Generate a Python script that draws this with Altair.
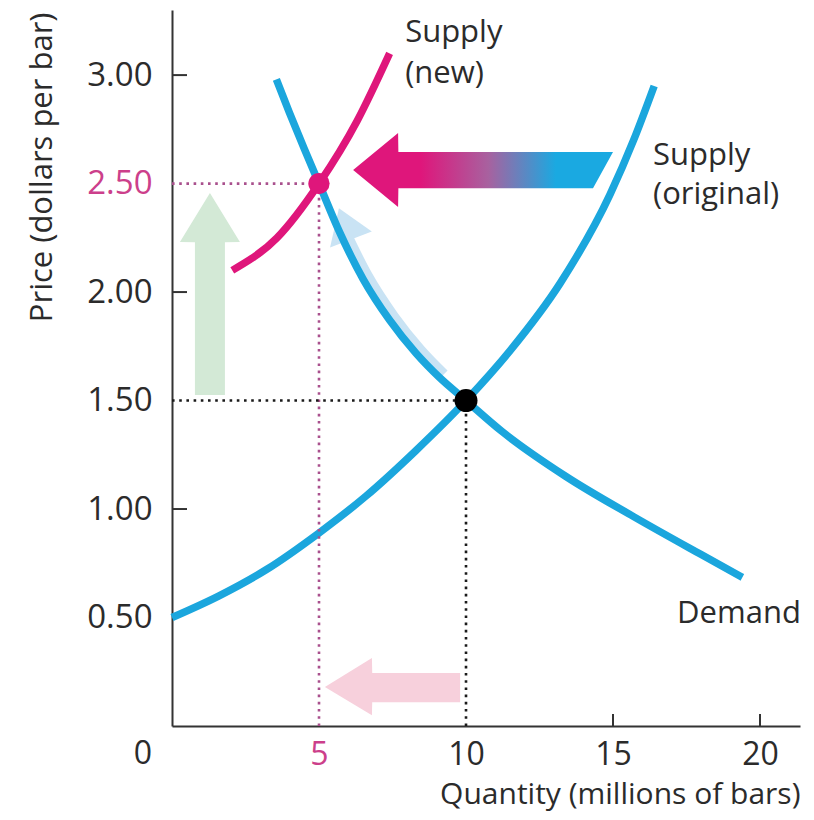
import altair as alt
import pandas as pd

# ---------------- data ----------------
x_ticks = [5, 10, 15, 20]
y_ticks = [0.5, 1.0, 1.5, 2.0, 2.5, 3.0]
x_tick_marks = [15, 20]
y_tick_marks = [1.0, 2.0, 3.0]

supply_orig_q = [0, 1.6, 3.2, 5.0, 6.6, 8.3, 10.0, 11.5, 13.2, 14.9, 15.7, 16.4]
supply_orig_p = [0.5, 0.6, 0.72, 0.89, 1.06, 1.27, 1.5, 1.73, 2.04, 2.45, 2.70, 2.95]

demand_q = [3.55, 4.0, 4.5, 5.0, 5.7, 6.5, 7.4, 8.3, 9.1, 10.0, 11.2, 13.4, 15.7, 18.0, 19.4]
demand_p = [2.98, 2.825, 2.66, 2.5, 2.276, 2.06, 1.871, 1.718, 1.606, 1.5, 1.36, 1.15, 0.965, 0.79, 0.685]

supply_new_q = [2.05, 3.57, 5.0, 6.3, 7.4]
supply_new_p = [2.10, 2.25, 2.5, 2.79, 3.10]

# equilibria
eq_new = (5, 2.5)
eq_orig = (10, 1.5)

# arrow outlines (data units)
green_y = [1.525, 2.23, 2.231, 2.456]
green_x = [0.78, 0.78, 0.27, 1.29]
green_x2 = [1.8, 1.8, 2.31, 1.29]

pinkarrow_x = [5.2, 6.8, 6.81, 9.8]
pinkarrow_y = [0.18, 0.313, 0.244, 0.244]
pinkarrow_y2 = [0.18, 0.05, 0.11, 0.11]

grad_x = [6.16, 7.69, 7.70, 14.32, 15.0]
grad_y = [2.562, 2.733, 2.645, 2.645, 2.645]
grad_y2 = [2.562, 2.392, 2.479, 2.479, 2.645]

curve_arrow_range = (5.7, 9.1)   # part of the demand curve the pale arrow follows
curve_head = (5.95, 2.29)

label_text = ["Supply", "(new)", "Supply", "(original)", "Demand"]
label_x = [7.93, 7.93, 16.36, 16.36, 17.18]
label_y = [3.152, 2.963, 2.585, 2.405, 0.475]

# ---------------- styles ----------------
BLUE = "#1ba6dd"
PINK = "#df167b"
PINK_TXT = "#cc3f8b"
DOT_PINK = "#a9508d"
PALE_BLUE = "#c9e3f4"
TXT = "#2b2b2b"
FONT = "Open Sans"

W, H = 628, 716
xs = alt.Scale(domain=[0, 21.36], nice=False, zero=False)
ys = alt.Scale(domain=[0, 3.3], nice=False, zero=False)

x_axis = alt.Axis(
    values=x_ticks, title="Quantity (millions of bars)", ticks=False, grid=False,
    domainColor="#333", domainWidth=2, labelFont=FONT, labelFontSize=32,
    labelColor={"expr": f"datum.value == 5 ? '{PINK_TXT}' : '{TXT}'"},
    labelPadding=13, titleFont=FONT, titleFontSize=30, titleFontWeight="normal",
    titleColor=TXT, titleAlign="right", titleBaseline="alphabetic",
    titleX=W, titleY=77,
)
y_axis = alt.Axis(
    values=y_ticks, format=".2f", title="Price (dollars per bar)", ticks=False, grid=False,
    domainColor="#333", domainWidth=2, labelFont=FONT, labelFontSize=33,
    labelColor={"expr": f"datum.value == 2.5 ? '{PINK_TXT}' : '{TXT}'"},
    labelPadding=20, titleFont=FONT, titleFontSize=31, titleFontWeight="normal",
    titleColor=TXT, titleAngle=270, titleAlign="right", titleBaseline="alphabetic",
    titleX=-121, titleY=2,
)


def X(f):
    return alt.X(f, type="quantitative", scale=xs, axis=x_axis)


def Y(f):
    return alt.Y(f, type="quantitative", scale=ys, axis=y_axis)


demand_df = pd.DataFrame({"q": demand_q, "p": demand_p})

# ---------------- layers ----------------
green = alt.Chart(pd.DataFrame({"x": green_x, "x2": green_x2, "y": green_y})).mark_area(
    orient="horizontal", color="#d3e9d6", opacity=1
).encode(y=Y("y"), x=X("x"), x2="x2")

pinkarrow = alt.Chart(pd.DataFrame({"x": pinkarrow_x, "y": pinkarrow_y, "y2": pinkarrow_y2})).mark_area(
    orient="vertical", color="#f7d0dc", opacity=1
).encode(x=X("x"), y=Y("y"), y2="y2")

grad = alt.Gradient(
    gradient="linear", x1=0, x2=1, y1=0, y2=0,
    stops=[
        alt.GradientStop(color=PINK, offset=0),
        alt.GradientStop(color=PINK, offset=0.26),
        alt.GradientStop(color="#a8619f", offset=0.52),
        alt.GradientStop(color="#1aa9e1", offset=0.78),
        alt.GradientStop(color="#1aa9e1", offset=1),
    ],
)
gradarrow = alt.Chart(pd.DataFrame({"x": grad_x, "y": grad_y, "y2": grad_y2})).mark_area(
    orient="vertical", color=grad, opacity=1
).encode(x=X("x"), y=Y("y"), y2="y2")

curve_shaft = alt.Chart(demand_df).transform_filter(
    (alt.datum.q >= curve_arrow_range[0]) & (alt.datum.q <= curve_arrow_range[1])
).mark_line(
    color=PALE_BLUE, strokeWidth=10, interpolate="monotone", strokeCap="butt",
    xOffset=4.5, yOffset=-3.5,
).encode(x=X("q"), y=Y("p"))

curve_headm = alt.Chart(pd.DataFrame({"x": [curve_head[0]], "y": [curve_head[1]]})).mark_point(
    shape="M0,-1L1,0.5L-1,0.5Z", filled=True, size=2000, angle=339,
    color=PALE_BLUE, opacity=1, strokeWidth=0
).encode(x=X("x"), y=Y("y"))

supply_orig = alt.Chart(pd.DataFrame({"q": supply_orig_q, "p": supply_orig_p})).mark_line(
    color=BLUE, strokeWidth=7.5, interpolate="monotone"
).encode(x=X("q"), y=Y("p"))

demand = alt.Chart(demand_df).mark_line(
    color=BLUE, strokeWidth=7.5, interpolate="monotone"
).encode(x=X("q"), y=Y("p"))

supply_new = alt.Chart(pd.DataFrame({"q": supply_new_q, "p": supply_new_p})).mark_line(
    color=PINK, strokeWidth=7.5, interpolate="monotone"
).encode(x=X("q"), y=Y("p"))

guides_df = pd.DataFrame({
    "x": [0, eq_new[0], 0, eq_orig[0]],
    "x2": [eq_new[0], eq_new[0], eq_orig[0], eq_orig[0]],
    "y": [eq_new[1], 0, eq_orig[1], 0],
    "y2": [eq_new[1], eq_new[1], eq_orig[1], eq_orig[1]],
    "kind": ["new", "new", "orig", "orig"],
})
guides = alt.Chart(guides_df).mark_rule(strokeWidth=2.6, strokeDash=[2.6, 4.6]).encode(
    x=X("x"), x2="x2", y=Y("y"), y2="y2",
    color=alt.Color("kind:N", scale=alt.Scale(domain=["new", "orig"], range=[DOT_PINK, "#1a1a1a"]), legend=None),
)

yticks = alt.Chart(pd.DataFrame({"v": y_tick_marks})).mark_rule(color="#333", strokeWidth=2).encode(
    y=Y("v"), x=alt.value(0), x2=alt.value(15)
)
xticks = alt.Chart(pd.DataFrame({"v": x_tick_marks})).mark_rule(color="#333", strokeWidth=2).encode(
    x=X("v"), y=alt.value(H), y2=alt.value(H - 12)
)

dot_new = alt.Chart(pd.DataFrame({"x": [eq_new[0]], "y": [eq_new[1]]})).mark_circle(
    size=450, color=PINK, opacity=1
).encode(x=X("x"), y=Y("y"))
dot_orig = alt.Chart(pd.DataFrame({"x": [eq_orig[0]], "y": [eq_orig[1]]})).mark_circle(
    size=530, color="#000000", opacity=1
).encode(x=X("x"), y=Y("y"))

labels = alt.Chart(pd.DataFrame({"t": label_text, "x": label_x, "y": label_y})).mark_text(
    font=FONT, fontSize=31, color=TXT, align="left", baseline="alphabetic"
).encode(x=X("x"), y=Y("y"), text="t:N")

origin = alt.Chart(pd.DataFrame({"t": ["0"], "x": [0], "y": [0]})).mark_text(
    font=FONT, fontSize=32, color=TXT, align="center", baseline="top", dx=-29, dy=13
).encode(x=X("x"), y=Y("y"), text="t:N")

chart = alt.layer(
    green, pinkarrow, curve_shaft, curve_headm, gradarrow,
    supply_orig, demand, supply_new, guides, yticks, xticks,
    dot_new, dot_orig, labels, origin,
).properties(
    width=W, height=H, autosize="none",
    padding={"left": 164, "top": 2, "right": 6, "bottom": 86},
).configure_view(stroke=None)

chart.save("out.html", embed_options={"renderer": "svg", "actions": False})
